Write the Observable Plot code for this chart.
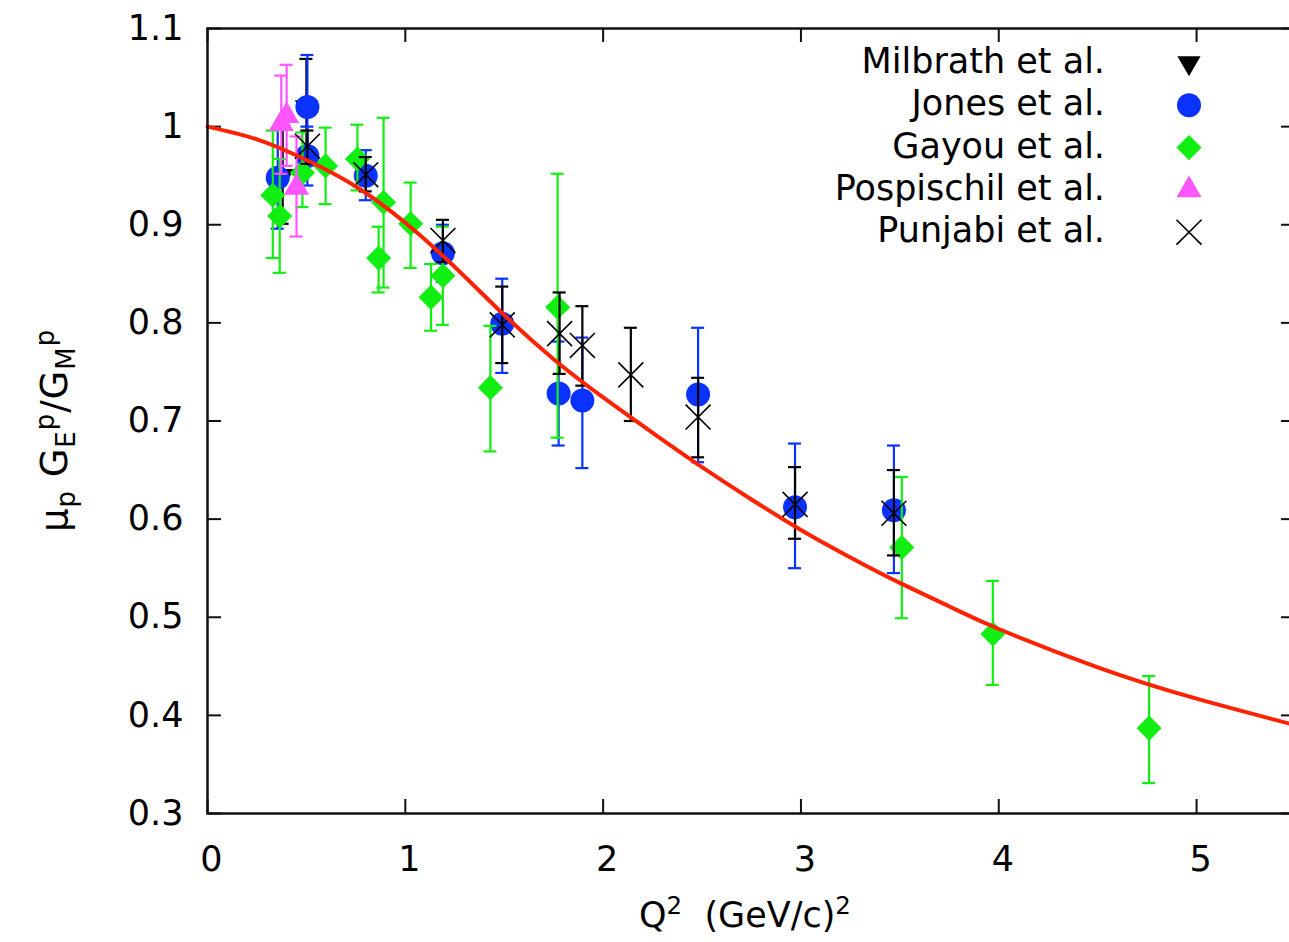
<!DOCTYPE html>
<html><head><meta charset="utf-8">
<script src="https://cdn.jsdelivr.net/npm/d3@7"></script>
<script src="https://cdn.jsdelivr.net/npm/@observablehq/plot@0.6"></script>
<style>
body{margin:0;background:#fff;overflow:hidden;}
#wrap{position:relative;width:1289px;height:942px;overflow:hidden;font-family:"DejaVu Sans",sans-serif;color:#000;}
#wrap svg{position:absolute;left:0;top:0;max-width:none;}
.lab{position:absolute;white-space:nowrap;font-size:35px;line-height:1;}
.lab sub,.lab sup{font-size:70%;line-height:0;}
#ylab{font-size:37px;letter-spacing:1px;}
</style></head><body><div id="wrap"></div><script>
// ---------------- data ----------------
const xTicks = [0, 1, 2, 3, 4, 5];
const yTicks = [0.3, 0.4, 0.5, 0.6, 0.7, 0.8, 0.9, 1.0, 1.1];
const yTickLabels = ["0.3", "0.4", "0.5", "0.6", "0.7", "0.8", "0.9", "1", "1.1"];
const seriesNames = ["Milbrath et al.", "Jones et al.", "Gayou et al.", "Pospischil et al.", "Punjabi et al."];
// [Q2, ratio, lower, upper]
const milbrath = [
  [0.38, 0.950, 0.901, 1.000],
  [0.50, 1.020, 0.971, 1.069]
];
const jones = [
  [0.355, 0.948, 0.896, 0.998],
  [0.505, 1.020, 0.967, 1.073],
  [0.505, 0.970, 0.940, 1.000],
  [0.80, 0.950, 0.925, 0.976],
  [1.19, 0.871, 0.842, 0.900],
  [1.49, 0.799, 0.749, 0.845],
  [1.775, 0.728, 0.675, 0.781],
  [1.895, 0.721, 0.652, 0.785],
  [2.48, 0.727, 0.658, 0.795],
  [2.97, 0.612, 0.550, 0.677],
  [3.47, 0.609, 0.545, 0.675]
];
const gayou = [
  [0.33, 0.930, 0.866, 0.996],
  [0.365, 0.909, 0.851, 0.967],
  [0.48, 0.953, 0.918, 0.994],
  [0.597, 0.960, 0.921, 0.999],
  [0.758, 0.967, 0.935, 1.002],
  [0.865, 0.866, 0.831, 0.898],
  [0.89, 0.923, 0.836, 1.009],
  [1.027, 0.901, 0.856, 0.943],
  [1.13, 0.826, 0.792, 0.860],
  [1.19, 0.848, 0.798, 0.898],
  [1.43, 0.734, 0.669, 0.797],
  [1.77, 0.816, 0.683, 0.952],
  [3.51, 0.571, 0.499, 0.643],
  [3.97, 0.483, 0.431, 0.537],
  [4.76, 0.387, 0.331, 0.440]
];
const pospischil = [
  [0.373, 1.003, 0.952, 1.052],
  [0.40, 1.011, 0.960, 1.063],
  [0.45, 0.938, 0.888, 0.990]
];
const punjabi = [
  [0.505, 0.980, 0.962, 0.996],
  [0.80, 0.951, 0.934, 0.969],
  [1.19, 0.884, 0.862, 0.905],
  [1.49, 0.798, 0.759, 0.837],
  [1.78, 0.789, 0.748, 0.831],
  [1.895, 0.777, 0.736, 0.817],
  [2.14, 0.747, 0.700, 0.795],
  [2.48, 0.704, 0.663, 0.744],
  [2.97, 0.615, 0.580, 0.653],
  [3.47, 0.606, 0.563, 0.650]
];
// fit curve
const fitQ2 = [0, 0.25, 0.5, 0.75, 1.0, 1.25, 1.5, 1.75, 2.0, 2.25, 2.5, 2.75, 3.0, 3.25, 3.5, 3.75, 4.0, 4.5, 5.0, 5.5];
const fitR  = [1.000, 0.987, 0.966, 0.939, 0.902, 0.857, 0.808, 0.763, 0.724, 0.688, 0.653, 0.620, 0.589, 0.561, 0.535, 0.511, 0.488, 0.449, 0.417, 0.390];

// ---------------- styles ----------------
const colors = {milbrath:"#000000", jones:"#0a32ff", gayou:"#11ee11", pospischil:"#ff55ff", punjabi:"#000000", fit:"#ff2200"};
const W = 1300, H = 942, mL = 207, mR = 5, mT = 28, mB = 129;
const plotW = W - mL - mR, plotH = H - mT - mB, tk = 14;

const rows = d => d.map(([q, v, lo, hi]) => ({q, v, lo, hi}));
function errMarks(data, color) {
  const r = rows(data);
  return [
    Plot.ruleX(r, {x: "q", y1: "lo", y2: "hi", stroke: color, strokeWidth: 2.2}),
    Plot.ruleY(r, {y: "lo", x1: "q", x2: "q", insetLeft: -6.5, insetRight: -6.5, stroke: color, strokeWidth: 2.2}),
    Plot.ruleY(r, {y: "hi", x1: "q", x2: "q", insetLeft: -6.5, insetRight: -6.5, stroke: color, strokeWidth: 2.2})
  ];
}
const fit = fitQ2.map((q, i) => ({q, r: fitR[i]}));

const chart = Plot.plot({
  width: W, height: H,
  marginLeft: mL, marginRight: mR, marginTop: mT, marginBottom: mB,
  style: {fontFamily: "DejaVu Sans, sans-serif", fontSize: "35px", background: "transparent", overflow: "visible", maxWidth: "none"},
  x: {domain: [0, 5.5]},
  y: {domain: [0.3, 1.1]},
  marks: [
    // inward ticks
    Plot.ruleX(xTicks, {x: d => d, insetTop: plotH - tk, stroke: "#111", strokeWidth: 2}),
    Plot.ruleX(xTicks, {x: d => d, insetBottom: plotH - tk, stroke: "#111", strokeWidth: 2}),
    Plot.ruleY(yTicks, {y: d => d, insetRight: plotW - tk, stroke: "#111", strokeWidth: 2}),
    Plot.ruleY(yTicks, {y: d => d, insetLeft: plotW - tk, stroke: "#111", strokeWidth: 2}),
    Plot.axisX({ticks: xTicks, tickSize: 0, tickPadding: 33, dx: 4, label: null, fontSize: 35, tickFormat: d => String(d)}),
    Plot.axisY({ticks: yTicks, tickSize: 0, tickPadding: 24, label: null, fontSize: 35,
      tickFormat: d => yTickLabels[yTicks.findIndex(t => Math.abs(t - d) < 1e-9)]}),
    // Milbrath
    ...errMarks(milbrath, colors.milbrath),
    Plot.dot(rows(milbrath), {x: "q", y: "v", symbol: "triangle", r: 8.6, rotate: 180, fill: colors.milbrath}),
    // Jones
    ...errMarks(jones, colors.jones),
    Plot.dot(rows(jones), {x: "q", y: "v", symbol: "circle", r: 12, fill: colors.jones}),
    // Gayou
    ...errMarks(gayou, colors.gayou),
    Plot.dot(rows(gayou), {x: "q", y: "v", symbol: "diamond2", r: 11.3, fill: colors.gayou}),
    // Pospischil
    ...errMarks(pospischil, colors.pospischil),
    Plot.dot(rows(pospischil), {x: "q", y: "v", symbol: "triangle", r: 9.3, fill: colors.pospischil}),
    // Punjabi
    ...errMarks(punjabi, colors.punjabi),
    Plot.dot(rows(punjabi), {x: "q", y: "v", symbol: "times", r: 11.4, stroke: colors.punjabi, strokeWidth: 1.6}),
    // fit
    Plot.line(fit, {x: "q", y: "r", stroke: colors.fit, strokeWidth: 4, curve: "natural"}),
    Plot.frame({stroke: "#111", strokeWidth: 2.5})
  ]
});
const wrap = document.getElementById("wrap");
wrap.appendChild(chart);

// ---------------- legend ----------------
const leg = d3.select(wrap).append("svg").attr("width", 1289).attr("height", 942)
  .style("pointer-events", "none");
const legSym = [
  {type: d3.symbolTriangle, r: 8.6, rot: 180, fill: colors.milbrath},
  {type: d3.symbolCircle, r: 12, fill: colors.jones},
  {type: d3.symbolDiamond2, r: 11.3, fill: colors.gayou},
  {type: d3.symbolTriangle, r: 9.3, fill: colors.pospischil},
  {type: d3.symbolTimes, r: 11.4, stroke: colors.punjabi}
];
seriesNames.forEach((name, i) => {
  const base = 73 + i * 42.3;
  leg.append("text").attr("x", 1105).attr("y", base).attr("text-anchor", "end")
    .attr("font-family", "DejaVu Sans, sans-serif").attr("font-size", 35).text(name);
  const s = legSym[i];
  leg.append("path").attr("d", d3.symbol(s.type, Math.PI * s.r * s.r)())
    .attr("transform", `translate(1189,${base - 10}) rotate(${s.rot || 0})`)
    .attr("fill", s.fill || "none").attr("stroke", s.stroke || "none").attr("stroke-width", 1.6);
});

// ---------------- axis titles ----------------
const xl = document.createElement("div");
xl.className = "lab";
xl.innerHTML = "Q<sup>2</sup>&nbsp; (GeV/c)<sup>2</sup>";
wrap.appendChild(xl);
xl.style.left = (745 - xl.offsetWidth / 2) + "px";
xl.style.top = "898px";

const yl = document.createElement("div");
yl.className = "lab";
yl.id = "ylab";
yl.innerHTML = "&mu;<sub>p</sub> G<sub>E</sub><sup>p</sup>/G<sub>M</sub><sup>p</sup>";
wrap.appendChild(yl);
yl.style.left = (54 - yl.offsetWidth / 2) + "px";
yl.style.top = (430 - yl.offsetHeight / 2) + "px";
yl.style.transform = "rotate(-90deg)";
</script></body></html>
